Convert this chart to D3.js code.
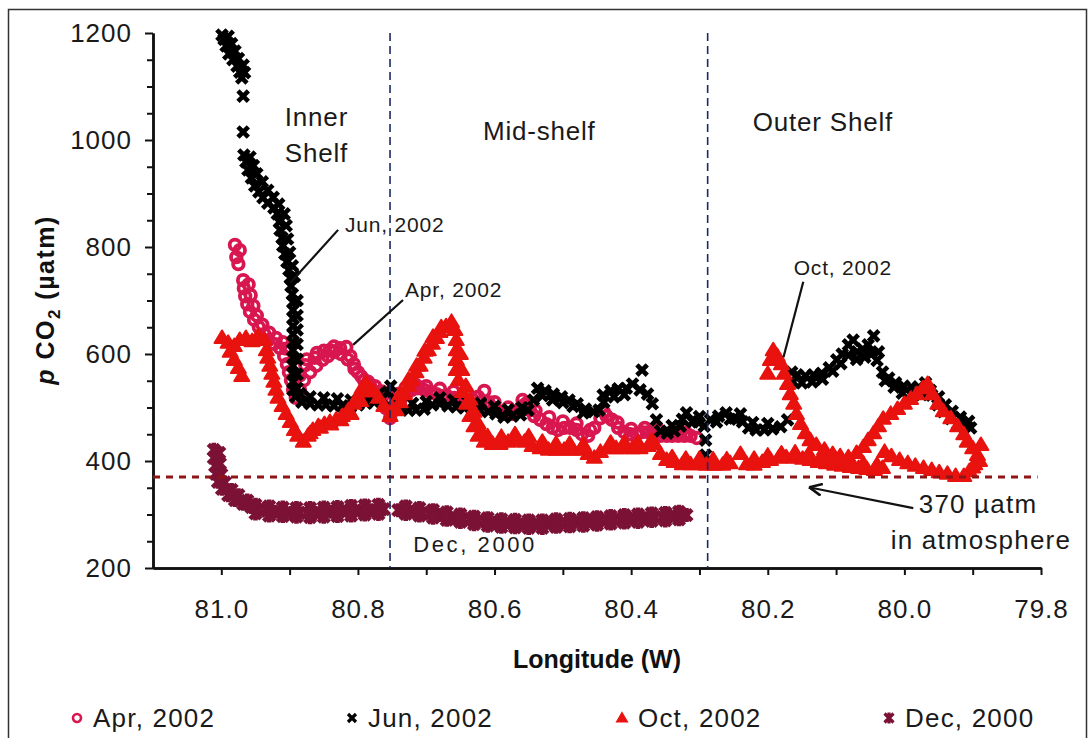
<!DOCTYPE html>
<html>
<head>
<meta charset="utf-8">
<script src="https://cdn.jsdelivr.net/npm/d3@7"></script>
<style>
body { margin: 0; background: #fff; }
svg { font-family: "Liberation Sans", Arial, sans-serif; }
</style>
</head>
<body>
<svg id="chart" width="1091" height="738"></svg>
<script>
// [longitude W, pCO2 uatm], read along each cruise track (and along the far edge where the track is wide)
const apr2002 = [
  [80.980,804],[80.973,794],[80.978,781],[80.975,768],[80.968,738],[80.967,723],[80.965,708],[80.962,693],
  [80.958,679],[80.952,664],[80.945,650],[80.937,637],[80.932,626],[80.923,619],[80.914,611],[80.908,596],
  [80.904,581],[80.901,566],[80.898,551],[80.895,533],[80.891,518],[80.885,533],[80.879,551],[80.877,579],
  [80.870,566],[80.863,593],[80.861,578],[80.852,589],[80.844,596],[80.841,607],[80.835,604],[80.826,611],
  [80.817,613],[80.811,596],[80.806,581],[80.800,566],[80.791,551],[80.782,540],[80.773,529],[80.765,518],
  [80.759,499],[80.753,480],[80.747,495],[80.738,514],[80.729,525],[80.721,533],[80.712,536],[80.703,533],
  [80.694,529],[80.685,525],[80.677,521],[80.668,520],[80.659,518],[80.650,518],[80.641,514],[80.633,516],
  [80.624,520],[80.615,531],[80.609,510],[80.600,499],[80.592,492],[80.583,488],[80.574,488],[80.565,495],
  [80.559,514],[80.554,507],[80.548,495],[80.542,484],[80.533,477],[80.524,469],[80.515,462],[80.507,458],
  [80.498,462],[80.489,462],[80.480,458],[80.472,450],[80.463,447],[80.454,462],[80.445,480],[80.436,484],
  [80.428,477],[80.419,462],[80.410,454],[80.401,450],[80.392,450],[80.384,454],[80.375,454],[80.366,450],
  [80.357,447],[80.348,447],[80.340,447],[80.331,447],[80.322,447],[80.313,447],[80.304,443],
  [80.960,730],[80.957,710],[80.953,690],[80.948,672],[80.940,655],[80.930,640],[80.920,630],[80.910,622],
  [80.905,610],[80.885,560],[80.875,590],[80.860,602],[80.850,606],[80.835,614],[80.825,600],[80.815,590],
  [80.805,572],[80.795,558],[80.785,548],[80.775,540],[80.765,530],[80.740,526],[80.730,537],[80.715,542],
  [80.700,540],[80.680,535],[80.660,530],[80.640,525],[80.620,510],[80.600,510],[80.580,500],[80.560,502],
  [80.540,494],[80.520,482],[80.500,474],[80.480,470],[80.460,458],[80.440,492],[80.420,472],[80.400,460],
  [80.380,462],[80.360,458],[80.340,455],[80.320,453]
];

const jun2002 = [
  [80.999,1196],[80.996,1188],[80.993,1176],[80.989,1161],[80.983,1150],[80.977,1138],[80.973,1127],[80.970,1116],
  [80.990,1194],[80.985,1180],[80.980,1166],[80.975,1152],[80.968,1140],[80.966,1126],
  [80.968,1082],[80.968,1015],
  [80.967,972],[80.964,959],[80.961,944],[80.956,929],[80.951,914],[80.945,903],[80.939,892],[80.932,882],
  [80.923,873],[80.918,862],[80.915,847],[80.914,832],[80.911,817],[80.910,802],[80.907,787],[80.904,772],
  [80.901,757],[80.899,742],[80.898,727],[80.896,712],
  [80.958,968],[80.953,952],[80.948,937],[80.940,922],[80.932,906],[80.924,893],[80.916,880],[80.908,862],
  [80.905,840],[80.903,815],[80.900,790],[80.896,765],[80.893,745],
  [80.895,697],[80.895,682],[80.895,667],[80.895,652],[80.895,637],[80.895,622],[80.895,607],[80.895,593],
  [80.895,578],[80.895,563],[80.895,548],[80.895,533],
  [80.889,700],[80.889,672],[80.889,645],[80.889,618],[80.889,590],[80.889,562],[80.889,536],
  [80.891,520],[80.882,510],[80.870,507],[80.858,505],[80.847,505],[80.835,503],[80.823,503],[80.811,501],
  [80.800,505],[80.788,508],[80.776,510],[80.765,516],[80.756,529],[80.747,514],[80.738,499],[80.726,495],
  [80.715,495],[80.703,497],[80.691,505],[80.680,507],[80.668,503],[80.656,501],[80.644,499],[80.633,499],
  [80.621,495],[80.609,492],[80.598,488],[80.586,482],[80.574,484],[80.562,486],[80.551,495],[80.543,514],
  [80.885,526],[80.870,520],[80.850,518],[80.830,516],[80.810,514],[80.790,520],[80.770,525],[80.752,540],
  [80.740,508],[80.720,508],[80.700,511],[80.680,518],[80.660,514],[80.640,512],[80.620,508],[80.600,502],
  [80.580,496],[80.560,500],
  [80.537,536],[80.526,531],[80.514,525],[80.502,520],[80.491,514],[80.479,507],[80.467,497],[80.455,492],
  [80.447,495],[80.441,523],[80.430,531],[80.419,535],[80.407,536],[80.398,544],[80.384,570],[80.387,533],
  [80.530,522],[80.515,514],[80.500,509],[80.485,502],[80.470,490],[80.440,510],[80.425,520],[80.410,524],
  [80.376,525],[80.369,507],[80.363,477],[80.357,456],[80.347,452],[80.337,456],[80.328,465],[80.319,490],
  [80.310,473],[80.302,473],[80.293,465],[80.291,439],[80.291,411],[80.284,477],[80.272,484],[80.261,490],
  [80.249,480],[80.237,473],[80.228,462],[80.217,458],[80.205,458],[80.193,460],[80.181,464],[80.171,477],
  [80.340,466],[80.325,478],[80.300,483],[80.275,473],[80.255,478],[80.240,488],[80.222,472],[80.200,470],
  [80.165,566],[80.157,561],[80.145,559],[80.133,561],[80.121,564],[80.110,574],[80.099,589],[80.091,600],
  [80.082,617],[80.075,626],[80.069,604],[80.061,609],[80.053,617],[80.045,634],[80.038,604],[80.032,566],
  [80.023,555],[80.013,546],[80.001,540],[79.990,538],[79.979,538],[79.969,546],[79.960,523],[79.951,505],
  [79.943,492],[79.932,479],[79.922,469],[79.913,464],[79.903,462],
  [80.163,548],[80.150,546],[80.135,548],[80.120,553],[80.105,568],[80.093,582],[80.082,598],[80.070,590],
  [80.058,594],[80.048,600],[80.040,588],[80.028,550],[80.015,538],[80.003,527],[79.990,524],[79.975,524],
  [79.962,532],[79.950,520],[79.940,505],[79.930,493],[79.918,482],[79.906,474]
];

const oct2002 = [
  [80.999,630],[80.990,621],[80.981,615],[80.973,626],[80.964,630],[80.955,624],[80.946,634],[80.937,626],
  [80.987,604],[80.981,589],[80.975,574],[80.970,559],
  [80.934,607],[80.932,593],[80.929,578],[80.926,563],[80.923,548],[80.920,533],[80.917,518],[80.911,503],
  [80.905,488],[80.899,473],[80.893,458],[80.888,447],[80.880,436],[80.873,447],[80.866,458],[80.858,465],
  [80.849,469],[80.841,473],[80.832,477],[80.823,484],[80.814,495],[80.806,507],[80.800,521],[80.794,536],
  [80.788,546],[80.779,533],[80.770,518],[80.762,503],[80.753,484],[80.744,495],[80.738,510],[80.732,525],
  [80.726,540],[80.721,551],[80.715,566],[80.709,578],[80.703,593],[80.697,607],[80.691,619],[80.685,630],
  [80.680,641],[80.671,652],[80.663,660],[80.658,645],[80.656,626],[80.656,607],[80.656,589],[80.656,570],
  [80.653,551],[80.647,529],[80.641,507],[80.636,484],[80.630,465],[80.624,447],[80.615,436],[80.603,432],
  [80.592,432],[80.580,436],[80.568,439],[80.556,436],[80.545,428],[80.533,424],[80.521,421],[80.510,421],
  [80.498,421],[80.486,421],[80.474,421],[80.463,413],[80.454,406],[80.445,417],[80.433,424],[80.422,424],
  [80.410,424],[80.398,424],[80.387,424],[80.375,428],[80.366,432],[80.357,413],[80.348,402],[80.337,398],
  [80.325,394],[80.313,394],[80.302,394],[80.290,393],[80.278,393],[80.266,393],[80.255,396],[80.240,413],
  [80.231,394],[80.220,393],[80.208,398],[80.196,402],[80.184,406],[80.173,407],[80.161,406],[80.149,404],
  [80.138,402],[80.126,398],[80.114,396],[80.102,393],[80.091,391],[80.079,389],[80.067,387],[80.055,385],
  [80.044,383],[80.032,387],
  [80.610,446],[80.590,445],[80.570,450],[80.550,446],[80.530,436],[80.510,432],[80.490,432],[80.470,430],
  [80.430,434],[80.410,434],[80.390,434],[80.370,438],[80.340,407],[80.320,404],[80.300,404],[80.280,403],
  [80.260,403],[80.220,404],[80.200,410],[80.180,414],[80.160,416],[80.140,413],[80.120,408],[80.100,403],
  [80.080,398],[80.060,395],[80.040,393],
  [80.870,452],[80.855,462],[80.840,468],[80.825,476],[80.810,488],[80.796,512],[80.785,530],
  [80.750,500],[80.738,525],[80.726,552],[80.714,578],[80.702,606],[80.690,632],[80.678,650],
  [80.650,600],[80.648,570],[80.642,540],[80.636,515],[80.630,492],[80.624,470],[80.618,452],
  [80.200,563],[80.196,589],[80.192,607],[80.186,596],[80.180,581],[80.176,563],[80.171,544],[80.167,525],
  [80.162,507],[80.158,488],[80.152,469],[80.145,452],[80.138,439],[80.129,430],[80.117,421],[80.105,413],
  [80.094,409],[80.082,407],[80.070,415],[80.060,426],[80.053,439],[80.045,452],[80.038,465],[80.031,479],
  [80.020,488],[80.010,497],[80.000,507],[79.991,516],[79.982,525],[79.973,536],[79.966,544],[79.959,525],
  [79.951,507],[79.943,493],[79.932,480],[79.922,465],[79.913,450],[79.908,436],[79.900,424],[79.893,411],
  [79.897,394],[79.905,381],[79.913,372],[79.925,372],[79.937,376],[79.949,379],[79.960,383],[79.972,387],
  [79.984,391],[79.995,396],[80.007,402],[80.019,409],[80.029,417],
  [79.888,430],[79.890,400],[79.900,388]
];

const dec2000 = [
  [81.011,421],[81.011,406],[81.009,391],[81.008,376],[81.005,361],[80.999,348],[80.990,336],[80.980,327],
  [80.968,320],[80.956,314],[80.945,310],[80.933,307],[80.921,305],[80.910,305],[80.898,303],[80.886,303],
  [80.874,303],[80.863,303],[80.851,305],[80.839,305],[80.828,305],[80.816,307],[80.804,307],[80.792,308],
  [80.781,308],[80.769,310],[80.762,310],
  [81.003,415],[81.002,395],[81.000,375],[80.995,360],[80.985,346],[80.975,336],[80.962,326],
  [80.950,318],[80.930,315],[80.910,313],[80.890,312],[80.870,312],[80.850,313],[80.830,314],[80.810,316],
  [80.790,317],[80.770,318],
  [80.950,302],[80.930,298],[80.910,297],[80.890,296],[80.870,295],[80.850,296],[80.830,297],[80.810,298],
  [80.790,300],[80.770,301],
  [80.741,308],[80.729,307],[80.718,305],[80.706,303],[80.694,301],[80.682,299],[80.671,297],[80.659,293],
  [80.647,292],[80.636,290],[80.624,288],[80.612,286],[80.600,284],[80.589,284],[80.577,284],[80.565,282],
  [80.554,282],[80.542,282],[80.530,282],[80.518,284],[80.507,284],[80.495,284],[80.483,286],[80.472,286],
  [80.460,288],[80.448,288],[80.436,290],[80.425,290],[80.413,292],[80.401,292],[80.389,293],[80.378,293],
  [80.366,295],[80.354,295],[80.343,297],[80.331,297],[80.319,299],
  [80.730,315],[80.710,312],[80.690,308],[80.670,304],[80.650,300],[80.630,296],[80.610,293],[80.590,291],
  [80.570,290],[80.550,289],[80.530,289],[80.510,291],[80.490,292],[80.470,293],[80.450,295],[80.430,297],
  [80.410,299],[80.390,300],[80.370,302],[80.350,303],[80.330,305],
  [80.730,301],[80.710,298],[80.690,294],[80.670,290],[80.650,286],[80.630,282],[80.610,279],[80.590,277],
  [80.570,276],[80.550,275],[80.530,275],[80.510,277],[80.490,278],[80.470,279],[80.450,281],[80.430,283],
  [80.410,285],[80.390,286],[80.370,288],[80.350,289],[80.330,291]
];

const seriesNames = ["Apr, 2002", "Jun, 2002", "Oct, 2002", "Dec, 2000"];
const xTicks = [81.0, 80.8, 80.6, 80.4, 80.2, 80.0, 79.8];
const xMinorTicks = [80.9, 80.7, 80.5, 80.3, 80.1, 79.9];
const yTicks = [200, 400, 600, 800, 1000, 1200];
const yMinorTicks = [250, 300, 350, 450, 500, 550, 650, 700, 750, 850, 900, 950, 1050, 1100, 1150];
const atmosphere = 370;
const shelfBreaks = [80.753, 80.288];

const shelfLabels = [
  {text: "Inner", lon: 80.907, p: 1026},
  {text: "Shelf", lon: 80.907, p: 959},
  {text: "Mid-shelf", lon: 80.617, p: 1000},
  {text: "Outer Shelf", lon: 80.222, p: 1017}
];

const callouts = [
  {text: "Jun, 2002", lon: 80.819, p: 828, from: [80.899, 733], to: [80.829, 832]},
  {text: "Apr, 2002", lon: 80.731, p: 707, from: [80.807, 617], to: [80.734, 701]},
  {text: "Oct, 2002", lon: 80.162, p: 748, from: [80.177, 594], to: [80.148, 735]}
];

const svg = d3.select("#chart");

const x = d3.scaleLinear().domain([81.1, 79.8]).range([153, 1041]);
const y = d3.scaleLinear().domain([200, 1200]).range([568, 33]);

const colors = {apr: "#d8164f", jun: "#000000", oct: "#e8120e", dec: "#7b1236"};
const textColor = "#1a1a1a";

// outer frame
svg.append("rect")
  .attr("x", 8.5).attr("y", 9.5)
  .attr("width", 1078).attr("height", 740)
  .attr("fill", "none").attr("stroke", "#333").attr("stroke-width", 1.5);

// axes
const xMinor = svg.append("g")
  .attr("transform", "translate(0,568)")
  .call(d3.axisBottom(x).tickValues(xMinorTicks).tickSize(7).tickFormat("").tickSizeOuter(0));

const xAxis = svg.append("g")
  .attr("transform", "translate(0,568)")
  .call(d3.axisBottom(x).tickValues(xTicks).tickSize(7).tickPadding(25)
    .tickFormat(d3.format(".1f")).tickSizeOuter(0));

const yMinor = svg.append("g")
  .attr("transform", "translate(153,0)")
  .call(d3.axisLeft(y).tickValues(yMinorTicks).tickSize(6).tickFormat("").tickSizeOuter(0));

const yAxis = svg.append("g")
  .attr("transform", "translate(153,0)")
  .call(d3.axisLeft(y).tickValues(yTicks).tickSize(8).tickPadding(13)
    .tickFormat(d3.format("d")).tickSizeOuter(0));

[xMinor, xAxis, yMinor, yAxis].forEach(g => {
  g.select(".domain").attr("stroke", "#111").attr("stroke-width", 2.5);
  g.selectAll(".tick line").attr("stroke", "#111").attr("stroke-width", 2);
  g.selectAll(".tick text").attr("font-size", 26).attr("fill", textColor)
    .attr("letter-spacing", 1)
    .attr("font-family", "Liberation Sans, Arial, sans-serif");
});

// axis titles
svg.append("text")
  .attr("x", 597).attr("y", 668)
  .attr("text-anchor", "middle")
  .attr("font-size", 25).attr("font-weight", "bold").attr("fill", "#111")
  .text("Longitude (W)");

const yTitle = svg.append("text")
  .attr("transform", "translate(54,300) rotate(-90)")
  .attr("text-anchor", "middle")
  .attr("font-size", 25).attr("font-weight", "bold").attr("fill", "#111")
  .attr("letter-spacing", 1.5);
yTitle.append("tspan").attr("font-style", "italic").text("p ");
yTitle.append("tspan").text("CO");
yTitle.append("tspan").attr("font-size", 17).attr("dy", 6).text("2");
yTitle.append("tspan").attr("dy", -6).text(" (µatm)");

// marker shapes: big for the tracks, small for the legend
const trackPaths = {
  jun: "M-5.2,-5.2L5.2,5.2M-5.2,5.2L5.2,-5.2",
  oct: "M0,-7.5L7.5,5L-7.5,5Z",
  dec: "M-5.5,-5.5L5.5,5.5M-5.5,5.5L5.5,-5.5M0,-7V7"
};
const legendPaths = {
  jun: "M-4,-4L4,4M-4,4L4,-4",
  oct: "M0,-5.5L5.5,4L-5.5,4Z",
  dec: "M-4.5,-4.5L4.5,4.5M-4.5,4.5L4.5,-4.5M0,-5.5V5.5"
};

function drawCircles(g, data, color) {
  g.selectAll("circle")
    .data(data)
    .join("circle")
    .attr("cx", d => x(d[0]))
    .attr("cy", d => y(d[1]))
    .attr("r", 5.3)
    .attr("fill", "none")
    .attr("stroke", color)
    .attr("stroke-width", 3.8);
}

function drawMarks(g, data, path, color, filled, width) {
  g.selectAll("path")
    .data(data)
    .join("path")
    .attr("transform", d => `translate(${x(d[0])},${y(d[1])})`)
    .attr("d", path)
    .attr("fill", filled ? color : "none")
    .attr("stroke", color)
    .attr("stroke-width", width)
    .attr("stroke-linejoin", "round");
}

drawCircles(svg.append("g"), apr2002, colors.apr);
drawMarks(svg.append("g"), jun2002, trackPaths.jun, colors.jun, false, 4.6);
drawMarks(svg.append("g"), oct2002, trackPaths.oct, colors.oct, true, 2);
drawMarks(svg.append("g"), dec2000, trackPaths.dec, colors.dec, false, 4.6);

// reference lines
svg.append("line")
  .attr("x1", x(81.1)).attr("x2", x(79.805))
  .attr("y1", y(atmosphere)).attr("y2", y(atmosphere))
  .attr("stroke", "#8e1416").attr("stroke-width", 3)
  .attr("stroke-dasharray", "7,6");

svg.selectAll(".shelf-break")
  .data(shelfBreaks)
  .join("line")
  .attr("class", "shelf-break")
  .attr("x1", d => x(d)).attr("x2", d => x(d))
  .attr("y1", y(1200)).attr("y2", y(200))
  .attr("stroke", "#1b2a66").attr("stroke-width", 1.6)
  .attr("stroke-dasharray", "8,5");

// labels
svg.selectAll(".shelf-label")
  .data(shelfLabels)
  .join("text")
  .attr("class", "shelf-label")
  .attr("x", d => x(d.lon)).attr("y", d => y(d.p))
  .attr("font-size", 26).attr("fill", textColor)
  .attr("letter-spacing", 0.8)
  .text(d => d.text);

svg.selectAll(".callout-line")
  .data(callouts)
  .join("line")
  .attr("class", "callout-line")
  .attr("x1", d => x(d.from[0])).attr("y1", d => y(d.from[1]))
  .attr("x2", d => x(d.to[0])).attr("y2", d => y(d.to[1]))
  .attr("stroke", "#111").attr("stroke-width", 2.2);

svg.selectAll(".callout-text")
  .data(callouts)
  .join("text")
  .attr("class", "callout-text")
  .attr("x", d => x(d.lon)).attr("y", d => y(d.p))
  .attr("font-size", 21).attr("fill", textColor)
  .attr("letter-spacing", 0.8)
  .text(d => d.text);

svg.append("text")
  .attr("x", x(80.719)).attr("y", y(230))
  .attr("font-size", 22).attr("fill", textColor)
  .attr("letter-spacing", 2.6)
  .text("Dec, 2000");

svg.append("defs").append("marker")
  .attr("id", "arrow")
  .attr("viewBox", "0 0 10 10")
  .attr("refX", 0).attr("refY", 5)
  .attr("markerWidth", 6).attr("markerHeight", 6)
  .attr("orient", "auto")
  .append("path")
  .attr("d", "M10,0.5L0.5,5L10,9.5")
  .attr("fill", "none").attr("stroke", "#111").attr("stroke-width", 2);

svg.append("line")
  .attr("x1", x(80.140)).attr("y1", y(351))
  .attr("x2", x(79.987)).attr("y2", y(312))
  .attr("stroke", "#111").attr("stroke-width", 2.2)
  .attr("marker-start", "url(#arrow)");

svg.append("text")
  .attr("x", x(79.979)).attr("y", y(303))
  .attr("font-size", 26).attr("fill", textColor)
  .attr("letter-spacing", 1.2)
  .text("370 µatm");

svg.append("text")
  .attr("x", x(80.020)).attr("y", y(236))
  .attr("font-size", 26).attr("fill", textColor)
  .attr("letter-spacing", 1.2)
  .text("in atmosphere");

// legend
const legendX = [77, 352, 622, 889];
const legendKeys = ["apr", "jun", "oct", "dec"];
const legend = svg.append("g").attr("transform", "translate(0,718)");

legendKeys.forEach((k, i) => {
  const item = legend.append("g").attr("transform", `translate(${legendX[i]},0)`);
  if (k === "apr") {
    item.append("circle").attr("r", 4).attr("fill", "#fff")
      .attr("stroke", colors.apr).attr("stroke-width", 2.6);
  } else {
    item.append("path").attr("d", legendPaths[k])
      .attr("fill", k === "oct" ? colors.oct : "none")
      .attr("stroke", colors[k])
      .attr("stroke-width", k === "oct" ? 1.2 : 3.2);
  }
  item.append("text")
    .attr("x", 16).attr("y", 9)
    .attr("font-size", 26).attr("fill", textColor)
    .attr("letter-spacing", 1.2)
    .text(seriesNames[i]);
});
</script>
</body>
</html>
